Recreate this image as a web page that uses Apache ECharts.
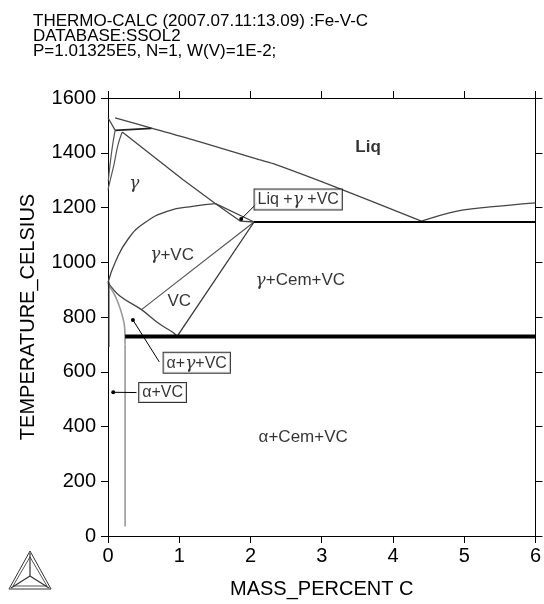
<!DOCTYPE html>
<html>
<head>
<meta charset="utf-8">
<script src="https://cdn.jsdelivr.net/npm/echarts@6/dist/echarts.min.js"></script>
<style>html,body{margin:0;padding:0;background:#fff;}#c{width:544px;height:604px;}</style>
</head>
<body>
<div id="c"></div>
<script>
// ---- data (mass % C, temperature °C) ----
const liquidus = [[0.1,1527],[0.61,1490],[1.28,1441],[2.12,1375],[2.32,1360],[3.25,1269],[4.40,1150]];
const liquidusRight = [[4.40,1150],[4.9,1187],[5.36,1202],[6.0,1217]];
const eutecticLine = [[2.05,1147],[6.0,1147]];
const eutectoidLine = [[0.24,729],[6.0,729]];
const deltaLiq = [[0,1528],[0.1,1482]];
const peritectic = [[0.1,1482],[0.61,1489]];
const deltaGamma1 = [[0.1,1482],[0.065,1429],[0.028,1356],[0.004,1296]];
const deltaGamma2 = [[0.2,1476],[0.14,1429],[0.083,1356],[0.028,1296],[0.0,1265]];
const gammaLiq = [[0.2,1476],[1.05,1302],[1.51,1214],[2.05,1147]];
const vcSolvusCurve = [[0.0,926],[0.1,999],[0.28,1084],[0.515,1144],[0.84,1187],[1.21,1205],[1.51,1214]];
const vcSolvusTail = [[1.51,1214],[1.86,1150],[2.05,1147]];
const gammaVcLine = [[2.05,1147],[0.47,827]];
const vcCemLine = [[2.05,1147],[0.97,729]];
const alphaGammaVc = [[0.0,926],[0.167,877],[0.47,827],[0.72,775],[0.91,744],[0.97,729]];
const alphaSolvusCurve = [[0.0,920],[0.074,890],[0.14,853],[0.2,805],[0.235,756],[0.24,700]];
const alphaSolvusLine = [[0.24,700],[0.24,35]];
const alphaAxis = [[0.01,930],[0.01,690]];

const regionLabels = [
  {text:'{b|Liq}', pos:[3.65,1421]},
  {text:'{g|γ}', pos:[0.37,1287]},
  {text:'{g|γ}+VC', pos:[0.90,1027]},
  {text:'VC', pos:[1.0,859]},
  {text:'{g|γ}+Cem+VC', pos:[2.70,934]},
  {text:'α+Cem+VC', pos:[2.74,362]}
];
const boxLabels = [
  {text:'Liq +{g|γ} +VC', pos:[2.67,1229], from:[2.09,1215], to:[1.87,1158]},
  {text:'α+{g|γ}+VC', pos:[1.246,633], from:[0.72,636], to:[0.35,789]},
  {text:'α+VC', pos:[0.766,524], from:[0.40,524], to:[0.074,525]}
];
const titleLines = ['THERMO-CALC (2007.07.11:13.09) :Fe-V-C','DATABASE:SSOL2','P=1.01325E5, N=1, W(V)=1E-2;'];

// ---- chart ----
const chart = echarts.init(document.getElementById('c'), null, {renderer:'canvas'});
const FONT = 'Liberation Sans, Arial, sans-serif';
const rich = {
  g:{fontFamily:'DejaVu Serif', fontStyle:'italic', fontSize:17, color:'#000'},
  b:{fontFamily:FONT, fontWeight:'bold', fontSize:17, color:'#000'}
};
function lineSeries(data, color, width, smooth){
  return {type:'line', data:data, showSymbol:false, silent:true, animation:false,
    smooth: smooth || false, lineStyle:{color:color, width:width}, z:2};
}
const series = [
  lineSeries(liquidus,'#444',1.3,0.3),
  lineSeries(liquidusRight,'#444',1.3,0.4),
  lineSeries(deltaLiq,'#444',1.3),
  lineSeries(peritectic,'#222',1.8),
  lineSeries(deltaGamma1,'#555',1.2,0.4),
  lineSeries(deltaGamma2,'#555',1.2,0.4),
  lineSeries(gammaLiq,'#444',1.3),
  lineSeries(vcSolvusCurve,'#444',1.3,0.5),
  lineSeries(vcSolvusTail,'#444',1.3),
  lineSeries(gammaVcLine,'#555',1.2),
  lineSeries(vcCemLine,'#333',1.3),
  lineSeries(alphaGammaVc,'#444',1.3,0.4),
  lineSeries(alphaSolvusCurve,'#999',1.6,0.5),
  lineSeries(alphaSolvusLine,'#999',1.6),
  lineSeries(alphaAxis,'#222',1.5),
  lineSeries(eutecticLine,'#000',2),
  lineSeries(eutectoidLine,'#000',4)
];
// leader lines
boxLabels.forEach(function(b){
  series.push({type:'line', silent:true, animation:false, z:3,
    symbol:'circle', showSymbol:true,
    itemStyle:{color:'#000'}, lineStyle:{color:'#000', width:1},
    data:[{value:b.from, symbolSize:0}, {value:b.to, symbolSize:4}]});
});
// region labels
series.push({type:'scatter', silent:true, animation:false, symbolSize:0, z:4,
  data: regionLabels.map(function(l){return {value:l.pos, lt:l.text};}),
  label:{show:true, position:'inside', fontFamily:FONT, fontSize:17, color:'#000',
    formatter:function(p){return p.data.lt;}, rich:rich}
});
// boxed labels
series.push({type:'scatter', silent:true, animation:false, symbolSize:0, z:5,
  data: boxLabels.map(function(l){return {value:l.pos, lt:l.text};}),
  label:{show:true, position:'inside', fontFamily:FONT, fontSize:16, color:'#000',
    backgroundColor:'#fff', borderColor:'#000', borderWidth:1, padding:[2,3,1,3],
    formatter:function(p){return p.data.lt;}, rich:rich}
});

const axisCommon = {
  axisLine:{show:true, onZero:false, lineStyle:{color:'#000', width:1}},
  axisTick:{show:true, inside:false, length:7, lineStyle:{color:'#000', width:1}},
  splitLine:{show:false}
};
const plain = function(v){ return String(v); };
const option = {
  animation:false,
  backgroundColor:'#fff',
  title:{text:titleLines.join('\n'), left:28, top:9,
    textStyle:{fontFamily:FONT, fontSize:17, fontWeight:'normal', color:'#000', lineHeight:15}},
  grid:{left:108, right:5, top:98, bottom:66, containLabel:false},
  xAxis:[
    Object.assign({type:'value', min:0, max:6, interval:1, position:'bottom',
      axisLabel:{fontFamily:FONT, fontSize:20, color:'#000', margin:10, formatter:plain},
      name:'MASS_PERCENT C', nameLocation:'middle', nameGap:43,
      nameTextStyle:{fontFamily:FONT, fontSize:20, color:'#000'}}, axisCommon),
    Object.assign({type:'value', min:0, max:6, interval:1, position:'top',
      axisLabel:{show:false}}, axisCommon)
  ],
  yAxis:[
    Object.assign({type:'value', min:0, max:1600, interval:200, position:'left',
      axisLabel:{fontFamily:FONT, fontSize:20, color:'#000', margin:12, formatter:plain},
      name:'TEMPERATURE_CELSIUS', nameLocation:'middle', nameGap:70, nameRotate:90,
      nameTextStyle:{fontFamily:FONT, fontSize:20, color:'#000'}}, axisCommon),
    Object.assign({type:'value', min:0, max:1600, interval:200, position:'right',
      axisLabel:{show:false}}, axisCommon)
  ],
  graphic:[
    {type:'polygon', shape:{points:[[30,551],[9,589],[51,589]]}, style:{fill:'none', stroke:'#333', lineWidth:1}},
    {type:'polygon', shape:{points:[[30,557],[13,586],[47,586]]}, style:{fill:'none', stroke:'#555', lineWidth:1}},
    {type:'polyline', shape:{points:[[30,553],[30,576]]}, style:{stroke:'#333', lineWidth:1.2}},
    {type:'polyline', shape:{points:[[11,588],[30,576]]}, style:{stroke:'#333', lineWidth:1.2}},
    {type:'polyline', shape:{points:[[49,588],[30,576]]}, style:{stroke:'#333', lineWidth:1.2}}
  ],
  series:series
};
chart.setOption(option);
</script>
</body>
</html>
